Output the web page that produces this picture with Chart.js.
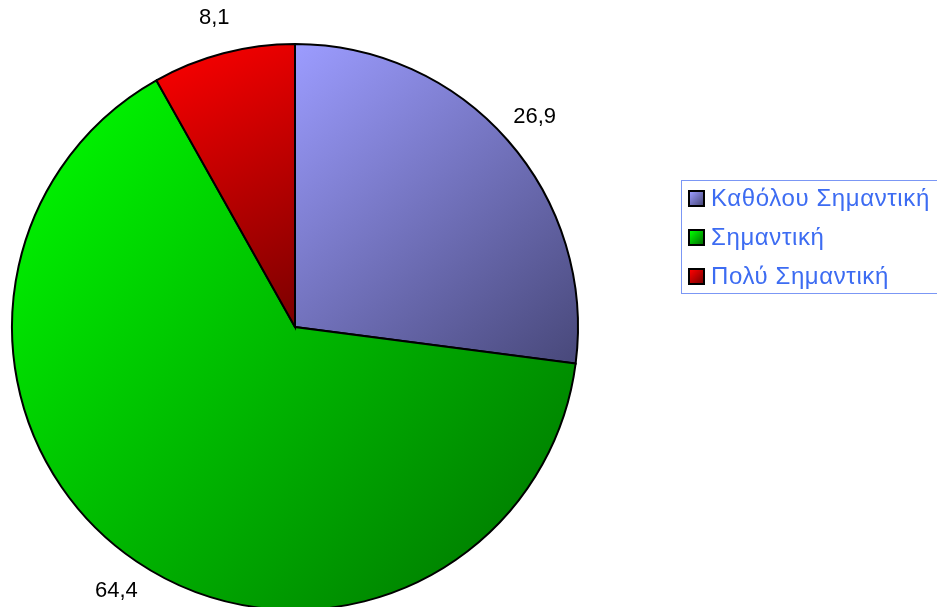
<!DOCTYPE html>
<html>
<head>
<meta charset="utf-8">
<script src="https://cdn.jsdelivr.net/npm/chart.js@4/dist/chart.umd.min.js"></script>
<style>
  html, body { margin: 0; padding: 0; background: #fff; overflow: hidden; }
  #wrap { position: relative; width: 937px; height: 615px; }
  #legend {
    position: absolute; left: 681px; top: 180px; width: 270px; height: 114px;
    border: 1px solid #7b97f5; box-sizing: border-box;
    font-family: "Liberation Sans", Arial, sans-serif; font-size: 24px; letter-spacing: 0.6px; color: #3d6cf2;
  }
  .item { position: absolute; left: 6px; height: 26px; line-height: 26px; white-space: nowrap; }
  .item span.box {
    display: inline-block; width: 13px; height: 13px; border: 2px solid #000;
    vertical-align: -1px; margin-right: 6px;
  }
</style>
</head>
<body>
<div id="wrap">
  <canvas id="pie"></canvas>
  <div id="legend"></div>
</div>
<script>
// Data
const labels = ["Καθόλου Σημαντική", "Σημαντική", "Πολύ Σημαντική"];
const values = [26.9, 64.4, 8.1];
const lightColors = ["#9c9cff", "#00ff00", "#ff0000"];
const darkColors = ["#48487a", "#007000", "#7a0000"];

// gradient across each slice's bounding box, top-left light to bottom-right dark
function sliceGradient(ctx) {
  const chart = ctx.chart;
  const i = ctx.dataIndex;
  const area = chart.chartArea;
  if (!area || i === undefined) return lightColors[i || 0];
  const meta = chart.getDatasetMeta(0);
  const r = meta.controller.outerRadius || Math.min(area.right - area.left, area.bottom - area.top) / 2;
  const cx = (area.left + area.right) / 2, cy = (area.top + area.bottom) / 2;
  const total = values.reduce((a, b) => a + b, 0);
  let before = 0;
  for (let k = 0; k < i; k++) before += values[k];
  const a0 = -Math.PI / 2 + before / total * Math.PI * 2;
  const a1 = a0 + values[i] / total * Math.PI * 2;
  const pts = [[cx, cy], [cx + r * Math.cos(a0), cy + r * Math.sin(a0)], [cx + r * Math.cos(a1), cy + r * Math.sin(a1)]];
  for (let q = -4; q <= 8; q++) {
    const a = q * Math.PI / 2;
    if (a > a0 && a < a1) pts.push([cx + r * Math.cos(a), cy + r * Math.sin(a)]);
  }
  const xs = pts.map(p => p[0]), ys = pts.map(p => p[1]);
  const g = chart.ctx.createLinearGradient(Math.min(...xs), Math.min(...ys), Math.max(...xs), Math.max(...ys));
  g.addColorStop(0, lightColors[i]);
  g.addColorStop(1, darkColors[i]);
  return g;
}

const valueLabels = {
  id: 'valueLabels',
  afterDraw(chart) {
    const meta = chart.getDatasetMeta(0);
    const c = chart.ctx;
    c.save();
    c.font = '22px "Liberation Sans", Arial, sans-serif';
    c.fillStyle = '#000';
    c.textAlign = 'center';
    c.textBaseline = 'middle';
    meta.data.forEach((arc, i) => {
      const mid = (arc.startAngle + arc.endAngle) / 2;
      const d = arc.outerRadius + 36;
      const x = arc.x + d * Math.cos(mid);
      const y = arc.y + d * Math.sin(mid);
      c.fillText(values[i].toFixed(1).replace('.', ','), x, y);
    });
    c.restore();
  }
};

const cv = document.getElementById('pie');
cv.width = 937; cv.height = 615;
cv.style.width = '937px'; cv.style.height = '615px';

new Chart(cv, {
  type: 'pie',
  data: {
    labels: labels,
    datasets: [{
      data: values,
      backgroundColor: sliceGradient,
      borderColor: '#000',
      borderWidth: 2,
      borderJoinStyle: 'miter'
    }]
  },
  options: {
    responsive: false,
    animation: false,
    layout: { padding: { left: 11, right: 358, top: 43, bottom: 4 } },
    plugins: { legend: { display: false }, tooltip: { enabled: false } }
  },
  plugins: [valueLabels]
});

// html legend
const legend = document.getElementById('legend');
const rowTops = [4, 43, 82];
labels.forEach((l, i) => {
  const div = document.createElement('div');
  div.className = 'item';
  div.style.top = rowTops[i] + 'px';
  const box = document.createElement('span');
  box.className = 'box';
  box.style.background = 'linear-gradient(135deg, ' + lightColors[i] + ', ' + darkColors[i] + ')';
  div.appendChild(box);
  div.appendChild(document.createTextNode(l));
  legend.appendChild(div);
});
</script>
</body>
</html>
